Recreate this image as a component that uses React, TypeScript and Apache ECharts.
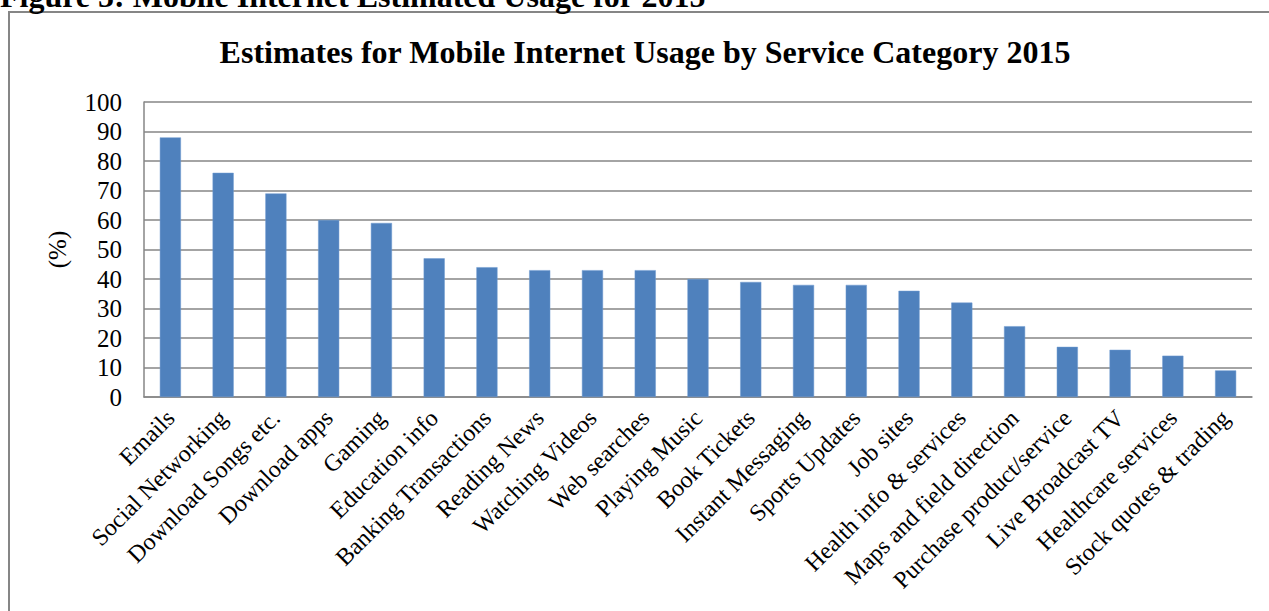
import React, { useEffect, useRef } from "react";
import * as echarts from "echarts";

const categories = [
  "Emails",
  "Social Networking",
  "Download Songs etc.",
  "Download apps",
  "Gaming",
  "Education info",
  "Banking Transactions",
  "Reading News",
  "Watching Videos",
  "Web searches",
  "Playing Music",
  "Book Tickets",
  "Instant Messaging",
  "Sports Updates",
  "Job sites",
  "Health info & services",
  "Maps and field direction",
  "Purchase product/service",
  "Live Broadcast TV",
  "Healthcare services",
  "Stock quotes & trading",
];
const usage = [88, 76, 69, 60, 59, 47, 44, 43, 43, 43, 40, 39, 38, 38, 36, 32, 24, 17, 16, 14, 9];

const chartTitle = "Estimates for Mobile Internet Usage by Service Category 2015";
const figureCaption = "Figure 5: Mobile Internet Estimated Usage for 2015";
const yAxisName = "(%)";

const SERIF = "'Liberation Serif', 'DejaVu Serif', serif";

export default function App() {
  const ref = useRef<HTMLDivElement>(null);
  useEffect(() => {
    if (!ref.current) return;
    const chart = echarts.init(ref.current, undefined, { renderer: "svg" });
    chart.setOption({
      animation: false,
      backgroundColor: "#ffffff",
      title: {
        text: chartTitle,
        left: 640,
        textAlign: "center",
        top: 31,
        textStyle: { fontFamily: SERIF, fontWeight: "bold", fontSize: 32, color: "#000" },
      },
      graphic: [
        {
          type: "rect",
          shape: { x: 9, y: 12, width: 1320, height: 700 },
          style: { fill: "none", stroke: "#868686", lineWidth: 2 },
          silent: true,
        },
        {
          type: "text",
          x: 0,
          y: -4,
          style: {
            text: figureCaption,
            fontFamily: SERIF,
            fontWeight: "bold",
            fontSize: 32,
            fill: "#000",
            textVerticalAlign: "middle",
          },
        },
      ],
      grid: { left: 144, right: 17, top: 102, bottom: 214, containLabel: false },
      xAxis: {
        type: "category",
        data: categories,
        axisLine: { show: true, lineStyle: { color: "#868686", width: 1.5 } },
        axisTick: { show: false },
        axisLabel: {
          interval: 0,
          rotate: 45,
          margin: 17,
          fontFamily: SERIF,
          fontSize: 24,
          color: "#000",
        },
      },
      yAxis: {
        type: "value",
        min: 0,
        max: 100,
        interval: 10,
        name: yAxisName,
        nameLocation: "middle",
        nameRotate: 90,
        nameGap: 74,
        nameTextStyle: { fontFamily: SERIF, fontSize: 25, color: "#000" },
        axisLine: { show: true, lineStyle: { color: "#868686", width: 1.5 } },
        axisTick: { show: false },
        axisLabel: { margin: 22, fontFamily: SERIF, fontSize: 25, color: "#000" },
        splitLine: { show: true, lineStyle: { color: "#868686", width: 1.5 } },
      },
      series: [
        {
          type: "bar",
          data: usage,
          barCategoryGap: "60%",
          itemStyle: { color: "#4F81BD", borderColor: "#6F9AD0", borderWidth: 0.5 },
        },
      ],
    });
    return () => chart.dispose();
  }, []);
  return (
    <div
      ref={ref}
      style={{ position: "fixed", left: 0, top: 0, width: 1269, height: 611 }}
    />
  );
}
